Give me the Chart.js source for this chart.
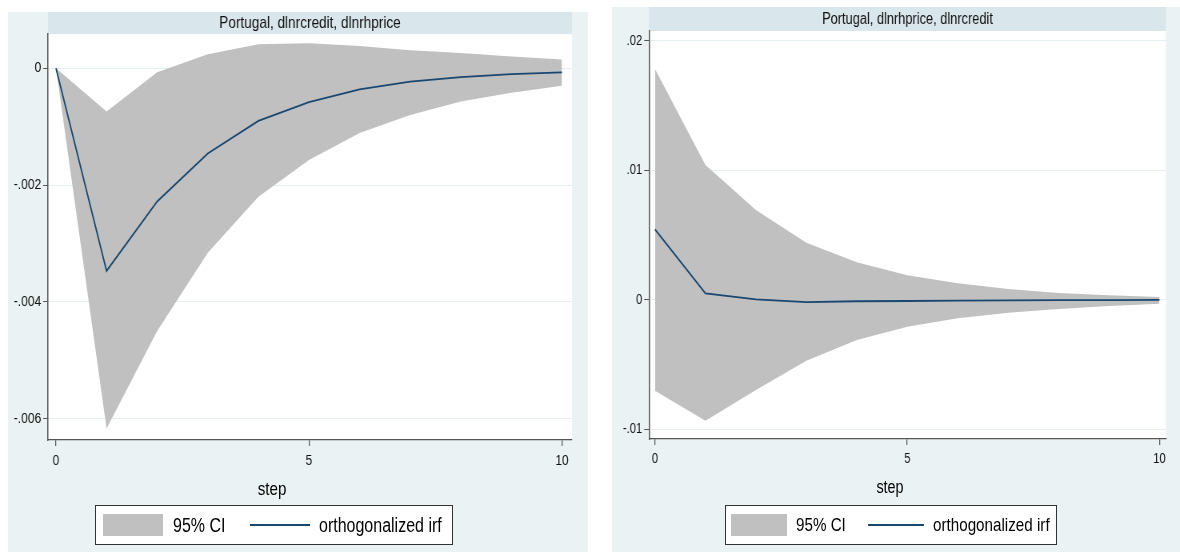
<!DOCTYPE html>
<html>
<head>
<meta charset="utf-8">
<script src="https://cdn.jsdelivr.net/npm/chart.js@4.4.1/dist/chart.umd.min.js"></script>
<style>
  body { margin: 0; background: #fff; width: 1180px; height: 552px; position: relative; overflow: hidden;
         font-family: 'Liberation Sans', Arial, sans-serif; }
  .panel { position: absolute; background: #EAF2F3; overflow: hidden; }
  /* the source picture is condensed sideways, so draw wide and squeeze */
  .panel canvas { position: absolute; left: 0; top: 0; transform: scaleX(0.8); transform-origin: 0 0; }
  .xtitle { position: absolute; text-align: center; color: #000; transform: scaleX(0.8); }
  .legend { position: absolute; box-sizing: border-box; border: 1.5px solid #333; background: #fff; }
  .legend .sw { position: absolute; background: #C0C0C0; }
  .legend .ln { position: absolute; height: 2px; background: #1A476F; }
  .legend .tx { position: absolute; white-space: nowrap; color: #000; transform: scaleX(0.8); transform-origin: 0 50%; }
</style>
</head>
<body>

<div class="panel" id="leftPanel" style="left:8px; top:12px; width:580px; height:540px;">
  <canvas id="leftChart" width="725" height="470"></canvas>
</div>
<div class="panel" id="rightPanel" style="left:612px; top:7px; width:568px; height:545px;">
  <canvas id="rightChart" width="710" height="474"></canvas>
</div>

<script>
// steps of the impulse response
const steps = [0, 1, 2, 3, 4, 5, 6, 7, 8, 9, 10];

// Portugal, dlnrcredit, dlnrhprice
const leftTitle = 'Portugal, dlnrcredit, dlnrhprice';
const leftIrf   = [0, -0.00347, -0.00228, -0.00146, -0.00090, -0.00058, -0.00036, -0.00023, -0.00015, -0.00010, -0.00007];
const leftUpper = [0, -0.00074, -0.00007, 0.00024, 0.00041, 0.00043, 0.00038, 0.00031, 0.00026, 0.00020, 0.00015];
const leftLower = [0, -0.00617, -0.00450, -0.00316, -0.00220, -0.00157, -0.00111, -0.00080, -0.00057, -0.00042, -0.00030];
const leftYTicks  = [-0.006, -0.004, -0.002, 0];
const leftYLabels = ['-.006', '-.004', '-.002', '0'];

// Portugal, dlnrhprice, dlnrcredit
const rightTitle = 'Portugal, dlnrhprice, dlnrcredit';
const rightIrf   = [0.00544, 0.00049, 0.00003, -0.00018, -0.00012, -0.00010, -0.00007, -0.00005, -0.00004, -0.00003, -0.00002];
const rightUpper = [0.01781, 0.01040, 0.00693, 0.00440, 0.00289, 0.00188, 0.00127, 0.00083, 0.00052, 0.00034, 0.00021];
const rightLower = [-0.00703, -0.00934, -0.00697, -0.00471, -0.00311, -0.00208, -0.00144, -0.00100, -0.00072, -0.00049, -0.00031];
const rightYTicks  = [-0.01, 0, 0.01, 0.02];
const rightYLabels = ['-.01', '0', '.01', '.02'];

const xTicks = [0, 5, 10];
const xLabel = 'step';
const ciLabel = '95% CI';
const irfLabel = 'orthogonalized irf';

const FONT = "'Liberation Sans', Arial, sans-serif";
const AXIS = '#555555';
const K = 0.8; // horizontal squeeze applied to the canvases

// draws the title band and white plot region
const bandPlugin = {
  id: 'band',
  beforeDraw(chart) {
    const { ctx, chartArea } = chart;
    ctx.save();
    ctx.fillStyle = '#D9E6EB';
    ctx.fillRect(chartArea.left, 0, chartArea.right - chartArea.left, chartArea.top);
    ctx.fillStyle = '#ffffff';
    ctx.fillRect(chartArea.left, chartArea.top, chartArea.right - chartArea.left, chartArea.bottom - chartArea.top);
    ctx.restore();
  }
};

function pts(arr) {
  return steps.map((s, i) => ({ x: s, y: arr[i] }));
}

function makeChart(id, o) {
  const ctx = document.getElementById(id).getContext('2d');
  return new Chart(ctx, {
    type: 'line',
    data: {
      datasets: [
        { label: ciLabel, data: pts(o.upper), fill: '+1', backgroundColor: '#C0C0C0',
          borderWidth: 0, pointRadius: 0 },
        { label: ciLabel + ' lower', data: pts(o.lower), fill: false, borderWidth: 0, pointRadius: 0 },
        { label: irfLabel, data: pts(o.irf), fill: false, borderColor: '#1A476F',
          borderWidth: 1.8, pointRadius: 0 }
      ]
    },
    options: {
      responsive: false,
      animation: false,
      devicePixelRatio: 1,
      layout: { padding: { left: 0, right: o.padRight / K, top: 0, bottom: 0 } },
      elements: { line: { tension: 0 } },
      plugins: {
        legend: { display: false },
        tooltip: { enabled: false },
        filler: { drawTime: 'beforeDatasetsDraw' },
        title: {
          display: true,
          text: o.title,
          fullSize: false,
          color: '#111',
          font: { family: FONT, size: o.titleSize, weight: 'normal', lineHeight: 1 },
          padding: o.titlePad
        }
      },
      scales: {
        x: {
          type: 'linear',
          min: o.xMin,
          max: o.xMax,
          afterBuildTicks: (s) => { s.ticks = xTicks.map(v => ({ value: v })); },
          afterFit: (s) => { s.height = 42; },
          ticks: { color: '#111', padding: 6, font: { family: FONT, size: o.tickSize },
                   maxRotation: 0, callback: (v) => String(v) },
          grid: { drawOnChartArea: false, tickLength: 6, tickColor: AXIS, lineWidth: 1.25 },
          border: { display: true, color: AXIS, width: 1.2 }
        },
        y: {
          min: o.yMin,
          max: o.yMax,
          afterBuildTicks: (s) => { s.ticks = o.yTicks.map(v => ({ value: v })); },
          afterFit: (s) => { s.width = o.yWidth / K; },
          ticks: { color: '#111', padding: 2.5, font: { family: FONT, size: o.tickSize },
                   callback: (v) => o.yLabels[o.yTicks.indexOf(v)] },
          grid: { color: '#E6EFF1', lineWidth: 1, tickLength: 6, tickColor: AXIS },
          border: { display: true, color: AXIS, width: 1.5 }
        }
      }
    },
    plugins: [bandPlugin]
  });
}

makeChart('leftChart', {
  title: leftTitle, titleSize: 17, titlePad: { top: 3, bottom: 2 },
  irf: leftIrf, upper: leftUpper, lower: leftLower,
  yTicks: leftYTicks, yLabels: leftYLabels,
  yMin: -0.006365, yMax: 0.000587, xMin: -0.158, xMax: 10.198,
  yWidth: 40, padRight: 16, tickSize: 15
});

makeChart('rightChart', {
  title: rightTitle, titleSize: 16, titlePad: { top: 5, bottom: 3 },
  irf: rightIrf, upper: rightUpper, lower: rightLower,
  yTicks: rightYTicks, yLabels: rightYLabels,
  yMin: -0.010757, yMax: 0.02075, xMin: -0.119, xMax: 10.129,
  yWidth: 37, padRight: 14, tickSize: 14
});

// x axis titles and legends as page text
function addXTitle(panel, cx, cy, size) {
  const d = document.createElement('div');
  d.className = 'xtitle';
  d.textContent = xLabel;
  d.style.left = (cx - 60) + 'px';
  d.style.width = '120px';
  d.style.top = (cy - 12) + 'px';
  d.style.lineHeight = '24px';
  d.style.fontSize = size + 'px';
  panel.appendChild(d);
}

function addLegend(panel, g) {
  const box = document.createElement('div');
  box.className = 'legend';
  box.style.left = g.left + 'px';
  box.style.top = g.top + 'px';
  box.style.width = g.width + 'px';
  box.style.height = '40px';
  box.innerHTML =
    `<div class="sw" style="left:${g.sw}px; top:7.5px; width:${g.swW}px; height:22px;"></div>` +
    `<div class="tx" style="left:${g.t1}px; top:6.5px; line-height:24px; font-size:${g.size}px;">${ciLabel}</div>` +
    `<div class="ln" style="left:${g.ln}px; top:17.5px; width:${g.swW}px;"></div>` +
    `<div class="tx" style="left:${g.t2}px; top:6.5px; line-height:24px; font-size:${g.size}px;">${irfLabel}</div>`;
  panel.appendChild(box);
}

const lp = document.getElementById('leftPanel');
const rp = document.getElementById('rightPanel');
addXTitle(lp, 272 - 8, 489 - 12, 19);
addXTitle(rp, 890 - 612, 487 - 7, 18);
addLegend(lp, { left: 95 - 8, top: 505 - 12, width: 358, sw: 7, swW: 60, t1: 77, ln: 154, t2: 223, size: 20 });
addLegend(rp, { left: 725 - 612, top: 505 - 7, width: 332, sw: 5, swW: 56, t1: 70, ln: 142, t2: 207, size: 19 });
</script>
</body>
</html>
